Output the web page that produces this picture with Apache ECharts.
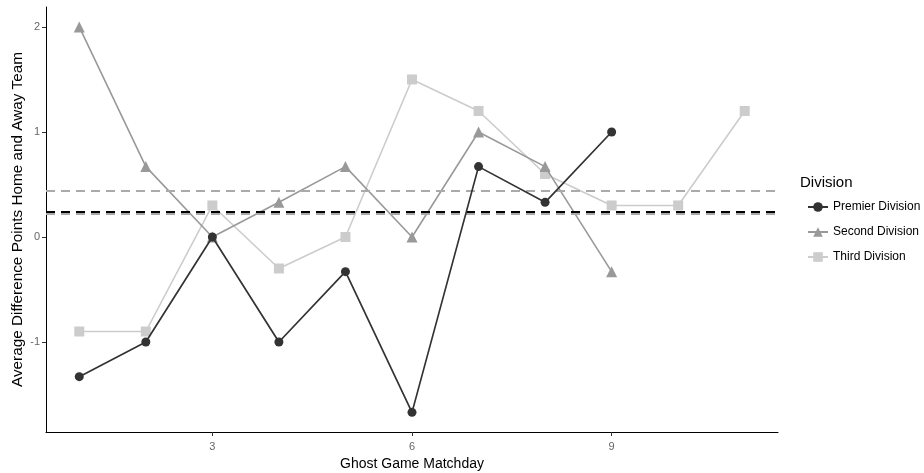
<!DOCTYPE html>
<html>
<head>
<meta charset="utf-8">
<script src="https://cdn.jsdelivr.net/npm/echarts@6/dist/echarts.min.js"></script>
<style>
  html, body { margin: 0; padding: 0; background: #fff; }
  #chart { width: 924px; height: 473px; }
</style>
</head>
<body>
<div id="chart"></div>
<script>
// matchdays and average point difference per division
const premierDays = [1, 2, 3, 4, 5, 6, 7, 8, 9];
const premierValues = [-1.33, -1, 0, -1, -0.33, -1.67, 0.67, 0.33, 1];
const secondDays = [1, 2, 3, 4, 5, 6, 7, 8, 9];
const secondValues = [2, 0.67, 0, 0.33, 0.67, 0, 1, 0.67, -0.33];
const thirdDays = [1, 2, 3, 4, 5, 6, 7, 8, 9, 10, 11];
const thirdValues = [-0.9, -0.9, 0.3, -0.3, 0, 1.5, 1.2, 0.6, 0.3, 0.3, 1.2];
// reference lines (dashed)
const meanLines = [
  { value: 0.44, color: '#aaaaaa' },
  { value: 0.22, color: '#aaaaaa' },
  { value: 0.24, color: '#000000' }
];
const xTicks = [3, 6, 9];
const yTicks = [-1, 0, 1, 2];

const pairs = (xs, ys) => xs.map((x, i) => [x, ys[i]]);

const chart = echarts.init(document.getElementById('chart'));
const font = 'Liberation Sans, Arial, sans-serif';

const option = {
  animation: false,
  textStyle: { fontFamily: font },
  grid: { left: 46, right: 146, top: 7, bottom: 41, outerBoundsMode: 'none', containLabel: false },
  legend: {
    orient: 'vertical',
    left: 802,
    top: 196,
    itemGap: 13,
    itemWidth: 20,
    itemHeight: 12,
    textStyle: { fontSize: 12, color: '#000', fontFamily: font },
    data: ['Premier Division', 'Second Division', 'Third Division']
  },
  graphic: [{
    type: 'text',
    left: 800,
    top: 175,
    style: { text: 'Division', font: '15px ' + font, fill: '#000' }
  }],
  xAxis: {
    type: 'value',
    min: 0.5,
    max: 11.5,
    name: 'Ghost Game Matchday',
    nameLocation: 'middle',
    nameGap: 25,
    nameMoveOverlap: false,
    nameTextStyle: { fontSize: 14, color: '#000' },
    splitLine: { show: false },
    axisLine: { show: true, onZero: false, lineStyle: { color: '#000', width: 1 } },
    axisTick: { show: true, customValues: xTicks, length: 4, lineStyle: { color: '#333' } },
    axisLabel: { customValues: xTicks, fontSize: 11, color: '#666', margin: 9 }
  },
  yAxis: {
    type: 'value',
    min: -1.857,
    max: 2.19,
    name: 'Average Difference Points Home and Away Team',
    nameLocation: 'middle',
    nameGap: 21,
    nameMoveOverlap: false,
    nameTextStyle: { fontSize: 15.3, color: '#000' },
    splitLine: { show: false },
    axisLine: { show: true, onZero: false, lineStyle: { color: '#000', width: 1 } },
    axisTick: { show: true, customValues: yTicks, length: 4, lineStyle: { color: '#333' } },
    axisLabel: { customValues: yTicks, fontSize: 11, color: '#666', margin: 6 }
  },
  series: [
    {
      name: 'Premier Division',
      type: 'line',
      data: pairs(premierDays, premierValues),
      symbol: 'circle',
      symbolSize: 9,
      itemStyle: { color: '#333333' },
      lineStyle: { color: '#333333', width: 1.7 },
      z: 5,
      markLine: {
        silent: true,
        symbol: 'none',
        label: { show: false },
        data: meanLines.map(m => ({
          yAxis: m.value,
          lineStyle: { color: m.color, type: [9, 6], width: m.color === '#000000' ? 2.2 : 1.8 }
        }))
      }
    },
    {
      name: 'Second Division',
      type: 'line',
      data: pairs(secondDays, secondValues),
      symbol: 'triangle',
      symbolSize: 11,
      itemStyle: { color: '#999999' },
      lineStyle: { color: '#999999', width: 1.6 },
      z: 4
    },
    {
      name: 'Third Division',
      type: 'line',
      data: pairs(thirdDays, thirdValues),
      symbol: 'rect',
      symbolSize: 10,
      itemStyle: { color: '#cccccc' },
      lineStyle: { color: '#cccccc', width: 1.6 },
      z: 3
    }
  ]
};

chart.setOption(option);
</script>
</body>
</html>
